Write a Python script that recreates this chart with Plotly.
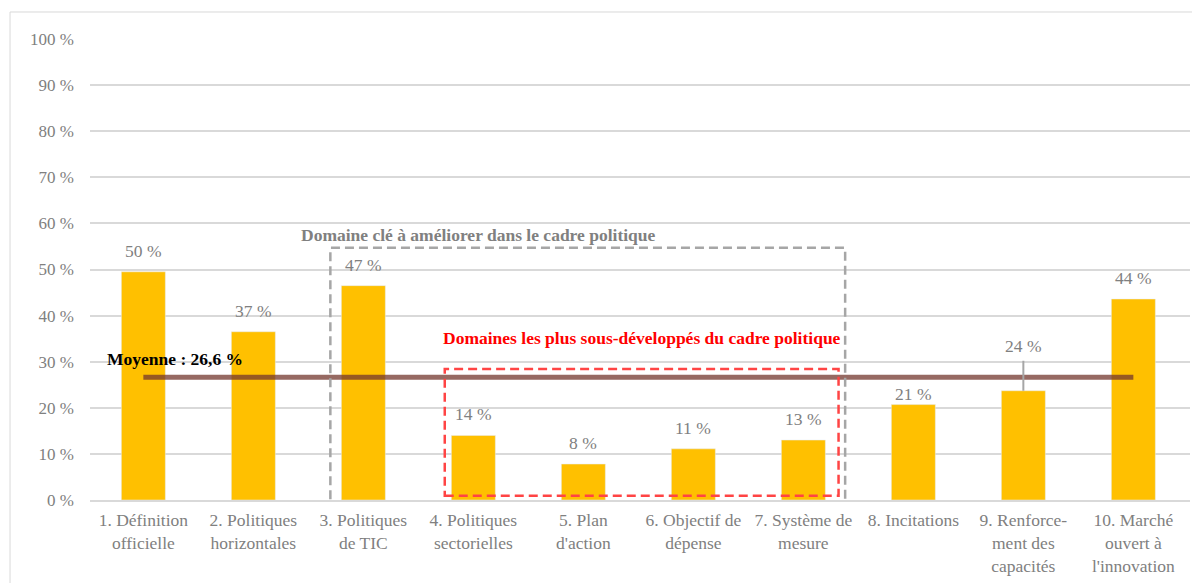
import plotly.graph_objects as go

categories = ["1. Définition<br>officielle", "2. Politiques<br>horizontales", "3. Politiques<br>de TIC",
              "4. Politiques<br>sectorielles", "5. Plan<br>d'action", "6. Objectif de<br>dépense",
              "7. Système de<br>mesure", "8. Incitations", "9. Renforce-<br>ment des<br>capacités",
              "10. Marché<br>ouvert à<br>l'innovation"]
values = [49.5, 36.5, 46.5, 14.0, 7.8, 11.1, 13.0, 20.7, 23.7, 43.6]
labels = ["50 %", "37 %", "47 %", "14 %", "8 %", "11 %", "13 %", "21 %", "24 %", "44 %"]
average = 26.6
yticks = [0, 10, 20, 30, 40, 50, 60, 70, 80, 90, 100]
ytick_text = ["0 %", "10 %", "20 %", "30 %", "40 %", "50 %", "60 %", "70 %", "80 %", "90 %", "100 %"]

FONT = "Liberation Serif, Times New Roman, serif"
GRAY = "#808080"
x = list(range(len(categories)))

fig = go.Figure()
fig.add_trace(go.Bar(x=x, y=values, marker=dict(color="#FFC000"), width=0.4,
                     hoverinfo="skip", showlegend=False))
fig.add_trace(go.Scatter(x=[x[0], x[-1]], y=[average, average], mode="lines",
                         line=dict(color="rgba(115,55,45,0.75)", width=5),
                         hoverinfo="skip", showlegend=False))

annotations = []
for i, (v, t) in enumerate(zip(values, labels)):
    shift = {7: 11, 8: 45}.get(i, 21)
    annotations.append(dict(x=i, y=v, text=t, showarrow=False, yshift=shift,
                            font=dict(family=FONT, size=17.5, color=GRAY)))
# leader line for label 9
fig.add_shape(type="line", x0=8, x1=8, y0=values[8], y1=values[8] + 6.5,
              line=dict(color="#A6A6A6", width=2))

annotations += [
    dict(x=3.05, y=57.5, text="<b>Domaine clé à améliorer dans le cadre politique</b>", showarrow=False,
         font=dict(family=FONT, size=17.5, color=GRAY)),
    dict(x=4.53, y=35.2, text="<b>Domaines les plus sous-développés du cadre politique</b>", showarrow=False,
         font=dict(family=FONT, size=17.5, color="#FF0000")),
    dict(x=-0.35, y=30.5, text="<b>Moyenne : 26,6 %</b>", showarrow=False, xanchor="left",
         font=dict(family=FONT, size=17.5, color="#000000")),
]

fig.add_shape(type="rect", x0=1.70, x1=6.38, y0=-0.4, y1=54.7,
              line=dict(color="#A6A6A6", width=2.5, dash="9px,5px"))
fig.add_shape(type="rect", x0=2.74, x1=6.32, y0=0.9, y1=28.4,
              line=dict(color="#FF4444", width=2.5, dash="9px,5px"))
# outer chart border
fig.add_shape(type="rect", xref="paper", yref="paper", x0=-0.0727, x1=1.2, y0=-0.3, y1=1.0586,
              line=dict(color="#D9D9D9", width=1), layer="below")

fig.update_layout(
    width=1200, height=583,
    margin=dict(l=82, r=18, t=31, b=91),
    paper_bgcolor="white", plot_bgcolor="white",
    annotations=annotations,
    bargap=0.6,
)
fig.update_xaxes(range=[-0.485, 9.515], tickvals=x, ticktext=categories, showgrid=False,
                 tickfont=dict(family=FONT, size=17.5, color=GRAY), showline=True,
                 linecolor="#D9D9D9", linewidth=2, ticks="", zeroline=False, ticklabelstandoff=3)
fig.update_yaxes(range=[0, 100], tickvals=yticks, ticktext=ytick_text, showgrid=True,
                 gridcolor="#D9D9D9", gridwidth=2, zeroline=False, showline=False,
                 tickfont=dict(family=FONT, size=17, color=GRAY), ticklabelstandoff=15)

fig.write_html("out.html")
